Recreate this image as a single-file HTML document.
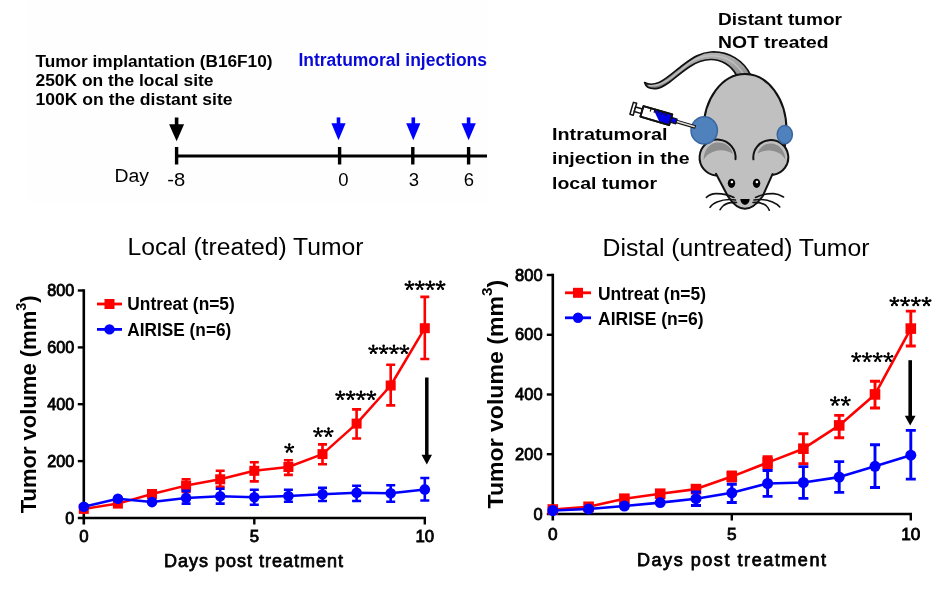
<!DOCTYPE html>
<html><head><meta charset="utf-8"><style>
html,body{margin:0;padding:0;background:#fff;width:945px;height:603px;overflow:hidden}
svg{display:block;will-change:transform;filter:blur(0.35px)}
text{font-family:"Liberation Sans",sans-serif}
.b{font-weight:bold}
.r{font-weight:normal}
</style></head><body>
<svg width="945" height="603" viewBox="0 0 945 603">
<rect x="28" y="0" width="458.5" height="203" fill="#fefefe"/>
<text x="35.5" y="67" class="b" font-size="17.2" textLength="237" lengthAdjust="spacingAndGlyphs">Tumor implantation (B16F10)</text>
<text x="35.5" y="86" class="b" font-size="17.2" textLength="178" lengthAdjust="spacingAndGlyphs">250K on the local site</text>
<text x="35.5" y="105" class="b" font-size="17.2" textLength="197" lengthAdjust="spacingAndGlyphs">100K on the distant site</text>
<text x="298.4" y="65.6" class="b" font-size="17.6" fill="#0a0ad8" textLength="188.6" lengthAdjust="spacingAndGlyphs">Intratumoral injections</text>
<text x="114.5" y="182.4" class="r" font-size="18" textLength="34.5" lengthAdjust="spacingAndGlyphs">Day</text>
<text x="167.2" y="185.6" class="r" font-size="19" textLength="18" lengthAdjust="spacingAndGlyphs">-8</text>
<text x="343.3" y="186.2" class="r" font-size="18.5" text-anchor="middle">0</text>
<text x="413.8" y="186.2" class="r" font-size="18.5" text-anchor="middle">3</text>
<text x="469" y="186.2" class="r" font-size="18.5" text-anchor="middle">6</text>
<path d="M176.6 156H487" stroke="#000" stroke-width="3"/>
<path d="M176.6 147V164.5" stroke="#000" stroke-width="3.4"/>
<path d="M339.6 147V164.5" stroke="#000" stroke-width="3.4"/>
<path d="M412.8 147V164.5" stroke="#000" stroke-width="3.4"/>
<path d="M468.6 147V164.5" stroke="#000" stroke-width="3.4"/>
<path d="M176.6 117.5V125.3" stroke="#000" stroke-width="3.6"/><path d="M169.1 124.3H184.1L176.6 141.3Z" fill="#000"/>
<path d="M338.5 117.4V124.2" stroke="#0000ff" stroke-width="3.6"/><path d="M331.4 123.2H345.6L338.5 140.2Z" fill="#0000ff"/>
<path d="M413.3 117.4V124.2" stroke="#0000ff" stroke-width="3.6"/><path d="M406.2 123.2H420.4L413.3 140.2Z" fill="#0000ff"/>
<path d="M468.6 117.4V124.2" stroke="#0000ff" stroke-width="3.6"/><path d="M461.5 123.2H475.8L468.6 140.2Z" fill="#0000ff"/>
<text x="127.5" y="255.3" class="r" font-size="23.5" textLength="236" lengthAdjust="spacingAndGlyphs">Local (treated) Tumor</text>
<text x="602.5" y="255.8" class="r" font-size="23.5" textLength="267" lengthAdjust="spacingAndGlyphs">Distal (untreated) Tumor</text>
<text transform="translate(35.8 513.3) rotate(-90)" class="b" font-size="21.8" textLength="218" lengthAdjust="spacingAndGlyphs">Tumor volume (mm<tspan font-size="14.5" dy="-10">3</tspan><tspan dy="10">)</tspan></text>
<text transform="translate(502.8 508.4) rotate(-90)" class="b" font-size="22.6" textLength="228.5" lengthAdjust="spacingAndGlyphs">Tumor volume (mm<tspan font-size="15" dy="-10.5">3</tspan><tspan dy="10.5">)</tspan></text>
<text x="164" y="567.3" class="r" font-size="18" stroke="#000" stroke-width="0.75" textLength="179" lengthAdjust="spacing">Days post treatment</text>
<text x="637" y="565.8" class="r" font-size="18" stroke="#000" stroke-width="0.75" textLength="189" lengthAdjust="spacing">Days post treatment</text>
<path d="M83.8 289.3V524.5M77.8 518.0H426.0" stroke="#000" stroke-width="2.6" fill="none"/>
<path d="M77.8 461.1H83.8" stroke="#000" stroke-width="2.4"/>
<path d="M77.8 404.2H83.8" stroke="#000" stroke-width="2.4"/>
<path d="M77.8 347.4H83.8" stroke="#000" stroke-width="2.4"/>
<path d="M77.8 290.5H83.8" stroke="#000" stroke-width="2.4"/>
<path d="M254.3 518.0V524.5" stroke="#000" stroke-width="2.4"/>
<path d="M424.8 518.0V524.5" stroke="#000" stroke-width="2.4"/>
<path d="M552.8 273.8V520.5M546.8 514.0H912.0" stroke="#000" stroke-width="2.6" fill="none"/>
<path d="M546.8 454.2H552.8" stroke="#000" stroke-width="2.4"/>
<path d="M546.8 394.5H552.8" stroke="#000" stroke-width="2.4"/>
<path d="M546.8 334.8H552.8" stroke="#000" stroke-width="2.4"/>
<path d="M546.8 275.0H552.8" stroke="#000" stroke-width="2.4"/>
<path d="M731.8 514.0V520.5" stroke="#000" stroke-width="2.4"/>
<path d="M910.8 514.0V520.5" stroke="#000" stroke-width="2.4"/>
<text x="65.2" y="523.6" class="r" stroke="#000" stroke-width="0.85" font-size="16.8" textLength="9.00" lengthAdjust="spacingAndGlyphs">0</text>
<text x="47.2" y="466.7" class="r" stroke="#000" stroke-width="0.85" font-size="16.8" textLength="27" lengthAdjust="spacingAndGlyphs">200</text>
<text x="47.2" y="409.8" class="r" stroke="#000" stroke-width="0.85" font-size="16.8" textLength="27" lengthAdjust="spacingAndGlyphs">400</text>
<text x="47.2" y="353.0" class="r" stroke="#000" stroke-width="0.85" font-size="16.8" textLength="27" lengthAdjust="spacingAndGlyphs">600</text>
<text x="47.2" y="296.1" class="r" stroke="#000" stroke-width="0.85" font-size="16.8" textLength="27" lengthAdjust="spacingAndGlyphs">800</text>
<text x="533.4" y="519.6" class="r" stroke="#000" stroke-width="0.85" font-size="17.2" textLength="9.17" lengthAdjust="spacingAndGlyphs">0</text>
<text x="515.1" y="459.9" class="r" stroke="#000" stroke-width="0.85" font-size="17.2" textLength="27.5" lengthAdjust="spacingAndGlyphs">200</text>
<text x="515.1" y="400.1" class="r" stroke="#000" stroke-width="0.85" font-size="17.2" textLength="27.5" lengthAdjust="spacingAndGlyphs">400</text>
<text x="515.1" y="340.4" class="r" stroke="#000" stroke-width="0.85" font-size="17.2" textLength="27.5" lengthAdjust="spacingAndGlyphs">600</text>
<text x="515.1" y="280.6" class="r" stroke="#000" stroke-width="0.85" font-size="17.2" textLength="27.5" lengthAdjust="spacingAndGlyphs">800</text>
<text x="83.8" y="541.8" text-anchor="middle" class="r" stroke="#000" stroke-width="0.85" font-size="16.8">0</text>
<text x="254.3" y="541.8" text-anchor="middle" class="r" stroke="#000" stroke-width="0.85" font-size="16.8">5</text>
<text x="424.8" y="541.8" text-anchor="middle" class="r" stroke="#000" stroke-width="0.85" font-size="16.8">10</text>
<text x="552.8" y="540.0" text-anchor="middle" class="r" stroke="#000" stroke-width="0.85" font-size="17.2">0</text>
<text x="731.8" y="540.0" text-anchor="middle" class="r" stroke="#000" stroke-width="0.85" font-size="17.2">5</text>
<text x="910.8" y="540.0" text-anchor="middle" class="r" stroke="#000" stroke-width="0.85" font-size="17.2">10</text>
<path d="M152.0 490.5V497.5M147.5 490.5H156.5M147.5 497.5H156.5" stroke="#ff0000" stroke-width="2.6" fill="none"/>
<path d="M186.1 479.3V492.0M181.6 479.3H190.6M181.6 492.0H190.6" stroke="#ff0000" stroke-width="2.6" fill="none"/>
<path d="M220.2 470.8V486.7M215.7 470.8H224.7M215.7 486.7H224.7" stroke="#ff0000" stroke-width="2.6" fill="none"/>
<path d="M254.3 462.3V481.4M249.8 462.3H258.8M249.8 481.4H258.8" stroke="#ff0000" stroke-width="2.6" fill="none"/>
<path d="M288.4 460.3V474.9M283.9 460.3H292.9M283.9 474.9H292.9" stroke="#ff0000" stroke-width="2.6" fill="none"/>
<path d="M322.5 444.4V464.3M318.0 444.4H327.0M318.0 464.3H327.0" stroke="#ff0000" stroke-width="2.6" fill="none"/>
<path d="M356.6 409.4V438.5M352.1 409.4H361.1M352.1 438.5H361.1" stroke="#ff0000" stroke-width="2.6" fill="none"/>
<path d="M390.7 364.8V405.4M386.2 364.8H395.2M386.2 405.4H395.2" stroke="#ff0000" stroke-width="2.6" fill="none"/>
<path d="M424.8 296.9V359.0M420.3 296.9H429.3M420.3 359.0H429.3" stroke="#ff0000" stroke-width="2.6" fill="none"/>
<polyline points="83.8,508.9 117.9,503.6 152.0,494.0 186.1,485.6 220.2,479.3 254.3,470.8 288.4,467.0 322.5,454.1 356.6,423.6 390.7,385.5 424.8,328.2" stroke="#ff0000" stroke-width="2.5" fill="none" stroke-linejoin="round"/>
<rect x="78.8" y="503.9" width="10" height="10" fill="#ff0000"/>
<rect x="112.9" y="498.6" width="10" height="10" fill="#ff0000"/>
<rect x="147.0" y="489.0" width="10" height="10" fill="#ff0000"/>
<rect x="181.1" y="480.6" width="10" height="10" fill="#ff0000"/>
<rect x="215.2" y="474.3" width="10" height="10" fill="#ff0000"/>
<rect x="249.3" y="465.8" width="10" height="10" fill="#ff0000"/>
<rect x="283.4" y="462.0" width="10" height="10" fill="#ff0000"/>
<rect x="317.5" y="449.1" width="10" height="10" fill="#ff0000"/>
<rect x="351.6" y="418.6" width="10" height="10" fill="#ff0000"/>
<rect x="385.7" y="380.5" width="10" height="10" fill="#ff0000"/>
<rect x="419.8" y="323.2" width="10" height="10" fill="#ff0000"/>
<path d="M186.1 490.9V503.6M181.6 490.9H190.6M181.6 503.6H190.6" stroke="#0000ff" stroke-width="2.6" fill="none"/>
<path d="M220.2 488.8V503.6M215.7 488.8H224.7M215.7 503.6H224.7" stroke="#0000ff" stroke-width="2.6" fill="none"/>
<path d="M254.3 489.8V504.7M249.8 489.8H258.8M249.8 504.7H258.8" stroke="#0000ff" stroke-width="2.6" fill="none"/>
<path d="M288.4 489.7V501.7M283.9 489.7H292.9M283.9 501.7H292.9" stroke="#0000ff" stroke-width="2.6" fill="none"/>
<path d="M322.5 487.9V501.0M318.0 487.9H327.0M318.0 501.0H327.0" stroke="#0000ff" stroke-width="2.6" fill="none"/>
<path d="M356.6 485.7V501.0M352.1 485.7H361.1M352.1 501.0H361.1" stroke="#0000ff" stroke-width="2.6" fill="none"/>
<path d="M390.7 485.2V501.7M386.2 485.2H395.2M386.2 501.7H395.2" stroke="#0000ff" stroke-width="2.6" fill="none"/>
<path d="M424.8 478.0V500.5M420.3 478.0H429.3M420.3 500.5H429.3" stroke="#0000ff" stroke-width="2.6" fill="none"/>
<polyline points="83.8,506.8 117.9,498.7 152.0,502.1 186.1,497.9 220.2,496.2 254.3,497.2 288.4,496.0 322.5,494.2 356.6,492.7 390.7,493.3 424.8,489.4" stroke="#0000ff" stroke-width="2.5" fill="none" stroke-linejoin="round"/>
<circle cx="83.8" cy="506.8" r="5.3" fill="#0000ff"/>
<circle cx="117.9" cy="498.7" r="5.3" fill="#0000ff"/>
<circle cx="152.0" cy="502.1" r="5.3" fill="#0000ff"/>
<circle cx="186.1" cy="497.9" r="5.3" fill="#0000ff"/>
<circle cx="220.2" cy="496.2" r="5.3" fill="#0000ff"/>
<circle cx="254.3" cy="497.2" r="5.3" fill="#0000ff"/>
<circle cx="288.4" cy="496.0" r="5.3" fill="#0000ff"/>
<circle cx="322.5" cy="494.2" r="5.3" fill="#0000ff"/>
<circle cx="356.6" cy="492.7" r="5.3" fill="#0000ff"/>
<circle cx="390.7" cy="493.3" r="5.3" fill="#0000ff"/>
<circle cx="424.8" cy="489.4" r="5.3" fill="#0000ff"/>
<path d="M731.8 472.0V481.0M726.8 472.0H736.8M726.8 481.0H736.8" stroke="#ff0000" stroke-width="2.9" fill="none"/>
<path d="M767.6 456.6V468.6M762.6 456.6H772.6M762.6 468.6H772.6" stroke="#ff0000" stroke-width="2.9" fill="none"/>
<path d="M803.4 433.7V463.6M798.4 433.7H808.4M798.4 463.6H808.4" stroke="#ff0000" stroke-width="2.9" fill="none"/>
<path d="M839.2 415.4V437.7M834.2 415.4H844.2M834.2 437.7H844.2" stroke="#ff0000" stroke-width="2.9" fill="none"/>
<path d="M875.0 381.3V408.0M870.0 381.3H880.0M870.0 408.0H880.0" stroke="#ff0000" stroke-width="2.9" fill="none"/>
<path d="M910.8 311.1V346.0M905.8 311.1H915.8M905.8 346.0H915.8" stroke="#ff0000" stroke-width="2.9" fill="none"/>
<polyline points="552.8,509.5 588.6,506.8 624.4,498.7 660.2,493.7 696.0,489.1 731.8,476.6 767.6,462.6 803.4,448.7 839.2,425.4 875.0,394.4 910.8,328.6" stroke="#ff0000" stroke-width="2.6" fill="none" stroke-linejoin="round"/>
<rect x="547.5" y="504.2" width="10.6" height="10.6" fill="#ff0000"/>
<rect x="583.3" y="501.5" width="10.6" height="10.6" fill="#ff0000"/>
<rect x="619.1" y="493.4" width="10.6" height="10.6" fill="#ff0000"/>
<rect x="654.9" y="488.4" width="10.6" height="10.6" fill="#ff0000"/>
<rect x="690.7" y="483.8" width="10.6" height="10.6" fill="#ff0000"/>
<rect x="726.5" y="471.3" width="10.6" height="10.6" fill="#ff0000"/>
<rect x="762.3" y="457.3" width="10.6" height="10.6" fill="#ff0000"/>
<rect x="798.1" y="443.4" width="10.6" height="10.6" fill="#ff0000"/>
<rect x="833.9" y="420.1" width="10.6" height="10.6" fill="#ff0000"/>
<rect x="869.7" y="389.1" width="10.6" height="10.6" fill="#ff0000"/>
<rect x="905.5" y="323.3" width="10.6" height="10.6" fill="#ff0000"/>
<path d="M696.0 492.0V505.5M691.0 492.0H701.0M691.0 505.5H701.0" stroke="#0000ff" stroke-width="2.9" fill="none"/>
<path d="M731.8 484.3V502.5M726.8 484.3H736.8M726.8 502.5H736.8" stroke="#0000ff" stroke-width="2.9" fill="none"/>
<path d="M767.6 470.5V496.4M762.6 470.5H772.6M762.6 496.4H772.6" stroke="#0000ff" stroke-width="2.9" fill="none"/>
<path d="M803.4 466.6V498.4M798.4 466.6H808.4M798.4 498.4H808.4" stroke="#0000ff" stroke-width="2.9" fill="none"/>
<path d="M839.2 461.6V492.4M834.2 461.6H844.2M834.2 492.4H844.2" stroke="#0000ff" stroke-width="2.9" fill="none"/>
<path d="M875.0 444.8V487.5M870.0 444.8H880.0M870.0 487.5H880.0" stroke="#0000ff" stroke-width="2.9" fill="none"/>
<path d="M910.8 430.4V479.1M905.8 430.4H915.8M905.8 479.1H915.8" stroke="#0000ff" stroke-width="2.9" fill="none"/>
<polyline points="552.8,510.5 588.6,509.0 624.4,506.0 660.2,502.6 696.0,498.7 731.8,492.8 767.6,483.5 803.4,482.5 839.2,477.1 875.0,466.3 910.8,455.2" stroke="#0000ff" stroke-width="2.6" fill="none" stroke-linejoin="round"/>
<circle cx="552.8" cy="510.5" r="5.5" fill="#0000ff"/>
<circle cx="588.6" cy="509.0" r="5.5" fill="#0000ff"/>
<circle cx="624.4" cy="506.0" r="5.5" fill="#0000ff"/>
<circle cx="660.2" cy="502.6" r="5.5" fill="#0000ff"/>
<circle cx="696.0" cy="498.7" r="5.5" fill="#0000ff"/>
<circle cx="731.8" cy="492.8" r="5.5" fill="#0000ff"/>
<circle cx="767.6" cy="483.5" r="5.5" fill="#0000ff"/>
<circle cx="803.4" cy="482.5" r="5.5" fill="#0000ff"/>
<circle cx="839.2" cy="477.1" r="5.5" fill="#0000ff"/>
<circle cx="875.0" cy="466.3" r="5.5" fill="#0000ff"/>
<circle cx="910.8" cy="455.2" r="5.5" fill="#0000ff"/>
<path d="M97 304H122" stroke="#ff0000" stroke-width="2.8"/>
<rect x="104.5" y="299.0" width="10" height="10" fill="#ff0000"/>
<path d="M97 329.4H122" stroke="#0000ff" stroke-width="2.8"/>
<circle cx="109.5" cy="329.4" r="5.2" fill="#0000ff"/>
<text x="127.3" y="310.4" class="b" font-size="18.8" textLength="107.5" lengthAdjust="spacingAndGlyphs">Untreat (n=5)</text>
<text x="127.3" y="335.8" class="b" font-size="18.8" textLength="104" lengthAdjust="spacingAndGlyphs">AIRISE (n=6)</text>
<path d="M565 292.8H591" stroke="#ff0000" stroke-width="2.8"/>
<rect x="573.0" y="287.8" width="10" height="10" fill="#ff0000"/>
<path d="M565 317.8H591" stroke="#0000ff" stroke-width="2.8"/>
<circle cx="578.0" cy="317.8" r="5.2" fill="#0000ff"/>
<text x="598" y="300.2" class="b" font-size="18.8" textLength="108" lengthAdjust="spacingAndGlyphs">Untreat (n=5)</text>
<text x="598" y="324.5" class="b" font-size="18.8" textLength="105.5" lengthAdjust="spacingAndGlyphs">AIRISE (n=6)</text>
<path d="M426.8 377.5V455.7" stroke="#000" stroke-width="3.5"/><path d="M421.5 454.7H432.0L426.8 464.5Z" fill="#000"/>
<path d="M910.2 360.2V416.7" stroke="#000" stroke-width="3.6"/><path d="M904.8 415.7H915.6L910.2 425.5Z" fill="#000"/>
<path d="M289.25 448.30L289.25 444.40M289.25 448.30L292.96 447.09M289.25 448.30L291.54 451.46M289.25 448.30L286.96 451.46M289.25 448.30L285.54 447.09" stroke="#000" stroke-width="1.7" stroke-linecap="round" fill="none"/><g fill="#000"><circle cx="289.25" cy="444.40" r="1.25"/><circle cx="292.96" cy="447.09" r="1.25"/><circle cx="291.54" cy="451.46" r="1.25"/><circle cx="286.96" cy="451.46" r="1.25"/><circle cx="285.54" cy="447.09" r="1.25"/></g>
<path d="M318.18 432.50L318.18 428.60M318.18 432.50L321.88 431.29M318.18 432.50L320.47 435.66M318.18 432.50L315.88 435.66M318.18 432.50L314.47 431.29M328.53 432.50L328.53 428.60M328.53 432.50L332.23 431.29M328.53 432.50L330.82 435.66M328.53 432.50L326.23 435.66M328.53 432.50L324.82 431.29" stroke="#000" stroke-width="1.7" stroke-linecap="round" fill="none"/><g fill="#000"><circle cx="318.18" cy="428.60" r="1.25"/><circle cx="321.88" cy="431.29" r="1.25"/><circle cx="320.47" cy="435.66" r="1.25"/><circle cx="315.88" cy="435.66" r="1.25"/><circle cx="314.47" cy="431.29" r="1.25"/><circle cx="328.53" cy="428.60" r="1.25"/><circle cx="332.23" cy="431.29" r="1.25"/><circle cx="330.82" cy="435.66" r="1.25"/><circle cx="326.23" cy="435.66" r="1.25"/><circle cx="324.82" cy="431.29" r="1.25"/></g>
<path d="M340.23 395.60L340.23 391.70M340.23 395.60L343.93 394.39M340.23 395.60L342.52 398.76M340.23 395.60L337.93 398.76M340.23 395.60L336.52 394.39M350.57 395.60L350.57 391.70M350.57 395.60L354.28 394.39M350.57 395.60L352.87 398.76M350.57 395.60L348.28 398.76M350.57 395.60L346.87 394.39M360.93 395.60L360.93 391.70M360.93 395.60L364.63 394.39M360.93 395.60L363.22 398.76M360.93 395.60L358.63 398.76M360.93 395.60L357.22 394.39M371.27 395.60L371.27 391.70M371.27 395.60L374.98 394.39M371.27 395.60L373.57 398.76M371.27 395.60L368.98 398.76M371.27 395.60L367.57 394.39" stroke="#000" stroke-width="1.7" stroke-linecap="round" fill="none"/><g fill="#000"><circle cx="340.23" cy="391.70" r="1.25"/><circle cx="343.93" cy="394.39" r="1.25"/><circle cx="342.52" cy="398.76" r="1.25"/><circle cx="337.93" cy="398.76" r="1.25"/><circle cx="336.52" cy="394.39" r="1.25"/><circle cx="350.57" cy="391.70" r="1.25"/><circle cx="354.28" cy="394.39" r="1.25"/><circle cx="352.87" cy="398.76" r="1.25"/><circle cx="348.28" cy="398.76" r="1.25"/><circle cx="346.87" cy="394.39" r="1.25"/><circle cx="360.93" cy="391.70" r="1.25"/><circle cx="364.63" cy="394.39" r="1.25"/><circle cx="363.22" cy="398.76" r="1.25"/><circle cx="358.63" cy="398.76" r="1.25"/><circle cx="357.22" cy="394.39" r="1.25"/><circle cx="371.27" cy="391.70" r="1.25"/><circle cx="374.98" cy="394.39" r="1.25"/><circle cx="373.57" cy="398.76" r="1.25"/><circle cx="368.98" cy="398.76" r="1.25"/><circle cx="367.57" cy="394.39" r="1.25"/></g>
<path d="M373.28 349.70L373.28 345.80M373.28 349.70L376.98 348.49M373.28 349.70L375.57 352.86M373.28 349.70L370.98 352.86M373.28 349.70L369.57 348.49M383.62 349.70L383.62 345.80M383.62 349.70L387.33 348.49M383.62 349.70L385.92 352.86M383.62 349.70L381.33 352.86M383.62 349.70L379.92 348.49M393.98 349.70L393.98 345.80M393.98 349.70L397.68 348.49M393.98 349.70L396.27 352.86M393.98 349.70L391.68 352.86M393.98 349.70L390.27 348.49M404.32 349.70L404.32 345.80M404.32 349.70L408.03 348.49M404.32 349.70L406.62 352.86M404.32 349.70L402.03 352.86M404.32 349.70L400.62 348.49" stroke="#000" stroke-width="1.7" stroke-linecap="round" fill="none"/><g fill="#000"><circle cx="373.28" cy="345.80" r="1.25"/><circle cx="376.98" cy="348.49" r="1.25"/><circle cx="375.57" cy="352.86" r="1.25"/><circle cx="370.98" cy="352.86" r="1.25"/><circle cx="369.57" cy="348.49" r="1.25"/><circle cx="383.62" cy="345.80" r="1.25"/><circle cx="387.33" cy="348.49" r="1.25"/><circle cx="385.92" cy="352.86" r="1.25"/><circle cx="381.33" cy="352.86" r="1.25"/><circle cx="379.92" cy="348.49" r="1.25"/><circle cx="393.98" cy="345.80" r="1.25"/><circle cx="397.68" cy="348.49" r="1.25"/><circle cx="396.27" cy="352.86" r="1.25"/><circle cx="391.68" cy="352.86" r="1.25"/><circle cx="390.27" cy="348.49" r="1.25"/><circle cx="404.32" cy="345.80" r="1.25"/><circle cx="408.03" cy="348.49" r="1.25"/><circle cx="406.62" cy="352.86" r="1.25"/><circle cx="402.03" cy="352.86" r="1.25"/><circle cx="400.62" cy="348.49" r="1.25"/></g>
<path d="M409.48 285.60L409.48 281.70M409.48 285.60L413.18 284.39M409.48 285.60L411.77 288.76M409.48 285.60L407.18 288.76M409.48 285.60L405.77 284.39M419.82 285.60L419.82 281.70M419.82 285.60L423.53 284.39M419.82 285.60L422.12 288.76M419.82 285.60L417.53 288.76M419.82 285.60L416.12 284.39M430.18 285.60L430.18 281.70M430.18 285.60L433.88 284.39M430.18 285.60L432.47 288.76M430.18 285.60L427.88 288.76M430.18 285.60L426.47 284.39M440.52 285.60L440.52 281.70M440.52 285.60L444.23 284.39M440.52 285.60L442.82 288.76M440.52 285.60L438.23 288.76M440.52 285.60L436.82 284.39" stroke="#000" stroke-width="1.7" stroke-linecap="round" fill="none"/><g fill="#000"><circle cx="409.48" cy="281.70" r="1.25"/><circle cx="413.18" cy="284.39" r="1.25"/><circle cx="411.77" cy="288.76" r="1.25"/><circle cx="407.18" cy="288.76" r="1.25"/><circle cx="405.77" cy="284.39" r="1.25"/><circle cx="419.82" cy="281.70" r="1.25"/><circle cx="423.53" cy="284.39" r="1.25"/><circle cx="422.12" cy="288.76" r="1.25"/><circle cx="417.53" cy="288.76" r="1.25"/><circle cx="416.12" cy="284.39" r="1.25"/><circle cx="430.18" cy="281.70" r="1.25"/><circle cx="433.88" cy="284.39" r="1.25"/><circle cx="432.47" cy="288.76" r="1.25"/><circle cx="427.88" cy="288.76" r="1.25"/><circle cx="426.47" cy="284.39" r="1.25"/><circle cx="440.52" cy="281.70" r="1.25"/><circle cx="444.23" cy="284.39" r="1.25"/><circle cx="442.82" cy="288.76" r="1.25"/><circle cx="438.23" cy="288.76" r="1.25"/><circle cx="436.82" cy="284.39" r="1.25"/></g>
<path d="M835.00 401.30L835.00 397.40M835.00 401.30L838.71 400.09M835.00 401.30L837.29 404.46M835.00 401.30L832.71 404.46M835.00 401.30L831.29 400.09M845.70 401.30L845.70 397.40M845.70 401.30L849.41 400.09M845.70 401.30L847.99 404.46M845.70 401.30L843.41 404.46M845.70 401.30L841.99 400.09" stroke="#000" stroke-width="1.7" stroke-linecap="round" fill="none"/><g fill="#000"><circle cx="835.00" cy="397.40" r="1.25"/><circle cx="838.71" cy="400.09" r="1.25"/><circle cx="837.29" cy="404.46" r="1.25"/><circle cx="832.71" cy="404.46" r="1.25"/><circle cx="831.29" cy="400.09" r="1.25"/><circle cx="845.70" cy="397.40" r="1.25"/><circle cx="849.41" cy="400.09" r="1.25"/><circle cx="847.99" cy="404.46" r="1.25"/><circle cx="843.41" cy="404.46" r="1.25"/><circle cx="841.99" cy="400.09" r="1.25"/></g>
<path d="M856.25 357.50L856.25 353.60M856.25 357.50L859.96 356.29M856.25 357.50L858.54 360.66M856.25 357.50L853.96 360.66M856.25 357.50L852.54 356.29M866.95 357.50L866.95 353.60M866.95 357.50L870.66 356.29M866.95 357.50L869.24 360.66M866.95 357.50L864.66 360.66M866.95 357.50L863.24 356.29M877.65 357.50L877.65 353.60M877.65 357.50L881.36 356.29M877.65 357.50L879.94 360.66M877.65 357.50L875.36 360.66M877.65 357.50L873.94 356.29M888.35 357.50L888.35 353.60M888.35 357.50L892.06 356.29M888.35 357.50L890.64 360.66M888.35 357.50L886.06 360.66M888.35 357.50L884.64 356.29" stroke="#000" stroke-width="1.7" stroke-linecap="round" fill="none"/><g fill="#000"><circle cx="856.25" cy="353.60" r="1.25"/><circle cx="859.96" cy="356.29" r="1.25"/><circle cx="858.54" cy="360.66" r="1.25"/><circle cx="853.96" cy="360.66" r="1.25"/><circle cx="852.54" cy="356.29" r="1.25"/><circle cx="866.95" cy="353.60" r="1.25"/><circle cx="870.66" cy="356.29" r="1.25"/><circle cx="869.24" cy="360.66" r="1.25"/><circle cx="864.66" cy="360.66" r="1.25"/><circle cx="863.24" cy="356.29" r="1.25"/><circle cx="877.65" cy="353.60" r="1.25"/><circle cx="881.36" cy="356.29" r="1.25"/><circle cx="879.94" cy="360.66" r="1.25"/><circle cx="875.36" cy="360.66" r="1.25"/><circle cx="873.94" cy="356.29" r="1.25"/><circle cx="888.35" cy="353.60" r="1.25"/><circle cx="892.06" cy="356.29" r="1.25"/><circle cx="890.64" cy="360.66" r="1.25"/><circle cx="886.06" cy="360.66" r="1.25"/><circle cx="884.64" cy="356.29" r="1.25"/></g>
<path d="M894.40 301.80L894.40 297.90M894.40 301.80L898.11 300.59M894.40 301.80L896.69 304.96M894.40 301.80L892.11 304.96M894.40 301.80L890.69 300.59M905.10 301.80L905.10 297.90M905.10 301.80L908.81 300.59M905.10 301.80L907.39 304.96M905.10 301.80L902.81 304.96M905.10 301.80L901.39 300.59M915.80 301.80L915.80 297.90M915.80 301.80L919.51 300.59M915.80 301.80L918.09 304.96M915.80 301.80L913.51 304.96M915.80 301.80L912.09 300.59M926.50 301.80L926.50 297.90M926.50 301.80L930.21 300.59M926.50 301.80L928.79 304.96M926.50 301.80L924.21 304.96M926.50 301.80L922.79 300.59" stroke="#000" stroke-width="1.7" stroke-linecap="round" fill="none"/><g fill="#000"><circle cx="894.40" cy="297.90" r="1.25"/><circle cx="898.11" cy="300.59" r="1.25"/><circle cx="896.69" cy="304.96" r="1.25"/><circle cx="892.11" cy="304.96" r="1.25"/><circle cx="890.69" cy="300.59" r="1.25"/><circle cx="905.10" cy="297.90" r="1.25"/><circle cx="908.81" cy="300.59" r="1.25"/><circle cx="907.39" cy="304.96" r="1.25"/><circle cx="902.81" cy="304.96" r="1.25"/><circle cx="901.39" cy="300.59" r="1.25"/><circle cx="915.80" cy="297.90" r="1.25"/><circle cx="919.51" cy="300.59" r="1.25"/><circle cx="918.09" cy="304.96" r="1.25"/><circle cx="913.51" cy="304.96" r="1.25"/><circle cx="912.09" cy="300.59" r="1.25"/><circle cx="926.50" cy="297.90" r="1.25"/><circle cx="930.21" cy="300.59" r="1.25"/><circle cx="928.79" cy="304.96" r="1.25"/><circle cx="924.21" cy="304.96" r="1.25"/><circle cx="922.79" cy="300.59" r="1.25"/></g>
<text x="718" y="25.4" class="b" font-size="17" textLength="124" lengthAdjust="spacingAndGlyphs">Distant tumor</text>
<text x="718" y="48.3" class="b" font-size="17" textLength="110.5" lengthAdjust="spacingAndGlyphs">NOT treated</text>
<text x="552" y="140.1" class="b" font-size="17" textLength="115.5" lengthAdjust="spacingAndGlyphs">Intratumoral</text>
<text x="552" y="164.1" class="b" font-size="17" textLength="137.5" lengthAdjust="spacingAndGlyphs">injection in the</text>
<text x="552" y="188.7" class="b" font-size="17" textLength="105" lengthAdjust="spacingAndGlyphs">local tumor</text>
<g id="mouse" stroke-linejoin="round" stroke-linecap="round">
<defs>
<linearGradient id="tailg" x1="0" y1="0" x2="0" y2="1">
<stop offset="0" stop-color="#b4b4b4"/><stop offset="0.5" stop-color="#9a9a9a"/><stop offset="1" stop-color="#7c7c7c"/>
</linearGradient>
</defs>
<!-- tail -->
<path d="M736.7 75.5 C731 65 721 59.5 711 59.5 C703 59.5 696 62.5 690 66.5 C683 71 676 77 669 82.5 C664 86 660 88.2 656 88.6 C651 89 646 87.5 644.6 82.5 C648 84.5 653 85 659 82.5 C666 79.5 675 71 683 65 C693 57.5 701 52.5 711 52 C729 51 744 61 750.5 75 Z" fill="url(#tailg)" stroke="#111" stroke-width="1.7"/>
<path d="M649 85.5 C655 86.5 661 84.5 668 80 C676 74.5 683 68 690 62.5 C697 57.5 703 55.8 711 55.7 C726 55.5 737 64 743.5 74" fill="none" stroke="#c4c4c4" stroke-width="1.5" opacity="0.85"/>
<!-- body -->
<ellipse cx="745" cy="130" rx="41.5" ry="56" fill="#c0c0c0" stroke="#111" stroke-width="2"/>
<!-- ears fill -->
<circle cx="717.6" cy="157.6" r="18" fill="#c0c0c0"/>
<circle cx="770.8" cy="157.5" r="17.5" fill="#c0c0c0"/>
<!-- head fill -->
<path d="M716 174 L728 196.5 C733 204 739 208.8 745 208.8 C751 208.8 757 204 762.5 196.5 L772.5 174 L774 150 L716 150 Z" fill="#c0c0c0"/>
<!-- ear crescents -->
<path d="M703.5 160 C704 149 710 142.5 718 142.5 C726 142.5 731.5 147 733 154 C727 150 720 149.5 714 151.5 C709 153 705.5 156 703.5 160 Z" fill="#8e8e8e"/>
<path d="M757.5 153.5 C760 147 764.5 143.5 770.5 143.5 C779 143.5 785 150 785.5 160 C783 155 779 152 773 151 C767 150 761.5 151 757.5 153.5 Z" fill="#8e8e8e"/>
<!-- ear outlines -->
<path d="M716 175.5 A18 18 0 1 1 735.5 159.2" fill="none" stroke="#111" stroke-width="2"/>
<path d="M753.4 159.3 A17.5 17.5 0 1 1 773.5 174.8" fill="none" stroke="#111" stroke-width="2"/>
<!-- head outline -->
<path d="M716 173.8 L728 196.5 C733 204 739 208.8 745 208.8 C751 208.8 757 204 762.5 196.5 L772.5 174.1" fill="none" stroke="#111" stroke-width="2"/>
<!-- tumors -->
<ellipse cx="704.2" cy="130.4" rx="13.2" ry="13.7" fill="#4f81bd" stroke="#3a66a0" stroke-width="1.5"/>
<ellipse cx="784.8" cy="134.6" rx="7.6" ry="9.1" fill="#4f81bd" stroke="#3a66a0" stroke-width="1.5"/>
<!-- syringe -->
<g transform="translate(633.3 108.8) rotate(16.3)" stroke="#111">
<rect x="-1.7" y="-6.2" width="3.4" height="12.4" fill="#fff" stroke-width="1.5"/>
<rect x="1.7" y="-2.4" width="7.3" height="4.8" fill="#fff" stroke-width="1.5"/>
<rect x="9" y="-5.5" width="30" height="11" fill="#fff" stroke-width="1.8"/>
<path d="M19 -5.5 H39 V5.5 H29 Z" fill="#0000e6" stroke="none"/>
<path d="M9 -5.5 H39 V5.5 H9 Z" fill="none" stroke-width="1.8"/>
<path d="M17 -5.5V-2.5M21 -5.5V-2.5M25 -5.5V-2.5M29 -5.5V-2.5M33 -5.5V-2.5" stroke-width="1.2"/>
<rect x="39" y="-2.5" width="6" height="5" fill="#0000e6" stroke-width="1.2"/>
<rect x="45" y="-1.3" width="19.5" height="2.6" fill="#ddd" stroke-width="1"/>
</g>
<!-- eyes -->
<ellipse cx="731.5" cy="183.3" rx="3.7" ry="4.6" fill="#000"/>
<ellipse cx="756.6" cy="183.3" rx="3.7" ry="4.6" fill="#000"/>
<circle cx="731.9" cy="182" r="1.3" fill="#fff"/>
<circle cx="756.9" cy="182" r="1.3" fill="#fff"/>
<!-- nose -->
<path d="M740.3 199 H749.7 C749.5 202 747.5 204.8 745 204.8 C742.5 204.8 740.5 202 740.3 199 Z" fill="#000"/>
<!-- whiskers -->
<g fill="none" stroke="#111" stroke-width="1.6">
<path d="M734 197.5 C729 195 722 193.5 716 193.6 C711 193.8 708.5 195.5 706.4 197.4"/>
<path d="M735.5 200 C730 199 723 199.5 717 202 C713.5 203.5 711 205.5 710 207.4"/>
<path d="M736.5 202.5 C732 202 727 203 723.5 205.5 C721.8 207 720.7 208.5 720.1 209.7"/>
<path d="M755.5 197.5 C760.5 195 767.5 193.5 773.5 193.6 C778.5 193.8 781 195.5 783.5 197"/>
<path d="M754 200 C759.5 199 766.5 199.5 772.5 202 C776 203.5 778.5 205.5 779.8 207"/>
<path d="M753 202.5 C757.5 202 762.5 203 766 205.5 C767.7 207 768.8 208.5 769.3 210.2"/>
</g>
</g>

</svg>
</body></html>
